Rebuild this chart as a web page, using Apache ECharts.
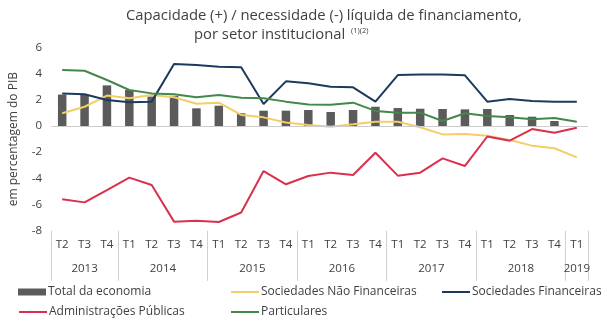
<!DOCTYPE html>
<html>
<head>
<meta charset="utf-8">
<script src="https://cdn.jsdelivr.net/npm/echarts@6/dist/echarts.min.js"></script>
<style>
  html, body { margin: 0; padding: 0; background: #ffffff; }
  #chart { width: 604px; height: 322px; }
</style>
</head>
<body>
<div id="chart"></div>
<script>
// Quarterly net lending (+) / net borrowing (-) by institutional sector, % of GDP
const quarters = ['T2','T3','T4','T1','T2','T3','T4','T1','T2','T3','T4','T1','T2','T3','T4','T1','T2','T3','T4','T1','T2','T3','T4','T1'];
const years = ['2013','2014','2015','2016','2017','2018','2019'];
const quartersPerYear = [3, 4, 4, 4, 4, 4, 1];

const totalEconomia     = [2.4, 2.4, 3.1, 2.75, 2.25, 2.3, 1.35, 1.55, 0.97, 1.17, 1.17, 1.22, 1.07, 1.22, 1.47, 1.37, 1.32, 1.3, 1.27, 1.3, 0.84, 0.71, 0.38, 0.0];
const socNaoFinanceiras = [0.97, 1.47, 2.32, 2.11, 2.37, 2.19, 1.7, 1.78, 0.84, 0.66, 0.26, 0.08, -0.05, 0.13, 0.33, 0.33, -0.1, -0.64, -0.61, -0.74, -1.07, -1.5, -1.7, -2.39];
const socFinanceiras    = [2.49, 2.42, 1.98, 1.81, 1.86, 4.73, 4.65, 4.53, 4.48, 1.68, 3.41, 3.26, 3.0, 2.95, 1.86, 3.89, 3.94, 3.94, 3.87, 1.86, 2.06, 1.91, 1.86, 1.86];
const admPublicas       = [-5.6, -5.83, -4.89, -3.94, -4.5, -7.3, -7.23, -7.33, -6.6, -3.44, -4.45, -3.82, -3.56, -3.74, -2.04, -3.79, -3.56, -2.47, -3.05, -0.8, -1.12, -0.23, -0.51, -0.13];
const particulares      = [4.27, 4.22, 3.51, 2.75, 2.49, 2.42, 2.19, 2.37, 2.16, 2.11, 1.86, 1.65, 1.63, 1.78, 1.15, 1.02, 1.02, 0.38, 0.97, 0.76, 0.66, 0.51, 0.61, 0.33];

const yMin = -8, yMax = 6, yStep = 2;

// year group boundaries and centres on a 0..N continuous scale
const yearBounds = [0];
quartersPerYear.forEach(n => yearBounds.push(yearBounds[yearBounds.length - 1] + n));
const yearCenters = years.map((_, i) => (yearBounds[i] + yearBounds[i + 1]) / 2);

const FONT = '"Open Sans", "Noto Sans", sans-serif';
const TXT = '#404040';

const COLORS = {
  total: '#5b5b5b',
  snf: '#f3cd66',
  sf: '#1c3a5e',
  ap: '#d9304d',
  part: '#43884a'
};

// one legend entry per box so each sits exactly in its column / row
function legendItem(name, left, top, isBar) {
  return {
    left: left, top: top, padding: 0,
    orient: 'horizontal',
    icon: 'rect',
    itemWidth: 28, itemHeight: isBar ? 7 : 2,
    textStyle: { fontFamily: FONT, fontSize: 12, color: TXT, padding: [0, 0, 0, -3] },
    data: [name]
  };
}

const chart = echarts.init(document.getElementById('chart'), null, { renderer: 'canvas' });

chart.setOption({
  animation: false,
  backgroundColor: '#ffffff',
  textStyle: { fontFamily: FONT },
  title: [
    {
      text: 'Capacidade (+) / necessidade (-) líquida de financiamento,',
      left: 121, top: 3,
      textStyle: { fontFamily: FONT, fontSize: 14.8, fontWeight: 'normal', color: TXT }
    },
    {
      text: 'por setor institucional {sup|(1)(2)}',
      left: 189, top: 22,
      textStyle: {
        fontFamily: FONT, fontSize: 14.8, fontWeight: 'normal', color: TXT,
        rich: { sup: { fontFamily: FONT, fontSize: 7.5, color: TXT, verticalAlign: 'top', padding: [0, 0, 7, 2] } }
      }
    }
  ],
  grid: { left: 45, right: 16, top: 47.4, bottom: 91.2, containLabel: false },
  legend: [
    legendItem('Total da economia', 18, 286, true),
    legendItem('Sociedades Não Financeiras', 231, 286, false),
    legendItem('Sociedades Financeiras', 442, 286, false),
    legendItem('Administrações Públicas', 19, 306, false),
    legendItem('Particulares', 231, 306, false)
  ],
  xAxis: [
    {
      type: 'category',
      data: quarters,
      position: 'bottom',
      axisLine: { show: false },
      axisTick: { show: false },
      axisLabel: { interval: 0, margin: 8, fontFamily: FONT, fontSize: 11.5, color: TXT }
    },
    {
      // year row with group separators
      type: 'value',
      min: 0, max: yearBounds[yearBounds.length - 1],
      position: 'bottom',
      splitLine: { show: false },
      axisLine: { show: false },
      axisTick: { show: true, customValues: yearBounds, length: 50, lineStyle: { color: '#d0d0d0', width: 1 } },
      axisLabel: {
        customValues: yearCenters,
        margin: 32, fontFamily: FONT, fontSize: 11.5, color: TXT,
        formatter: v => {
          const i = yearCenters.findIndex(c => Math.abs(c - v) < 1e-6);
          return i >= 0 ? years[i] : '';
        }
      }
    }
  ],
  yAxis: {
    type: 'value',
    min: yMin, max: yMax, interval: yStep,
    name: 'em percentagem do PIB',
    nameLocation: 'middle', nameGap: 31, nameRotate: 90,
    nameTextStyle: { fontFamily: FONT, fontSize: 12, color: TXT },
    axisLine: { show: false },
    axisTick: { show: false },
    splitLine: { show: false },
    axisLabel: { margin: 9, fontFamily: FONT, fontSize: 11.5, color: TXT }
  },
  series: [
    {
      name: 'Total da economia', type: 'bar', data: totalEconomia,
      barWidth: 8.5, itemStyle: { color: COLORS.total },
      markLine: {
        silent: true, symbol: 'none', label: { show: false },
        lineStyle: { color: '#cccccc', width: 1, type: 'solid' },
        data: [{ yAxis: 0 }]
      }
    },
    {
      name: 'Sociedades Não Financeiras', type: 'line', data: socNaoFinanceiras,
      symbol: 'none', lineStyle: { color: COLORS.snf, width: 2 }, itemStyle: { color: COLORS.snf }
    },
    {
      name: 'Sociedades Financeiras', type: 'line', data: socFinanceiras,
      symbol: 'none', lineStyle: { color: COLORS.sf, width: 2 }, itemStyle: { color: COLORS.sf }
    },
    {
      name: 'Administrações Públicas', type: 'line', data: admPublicas,
      symbol: 'none', lineStyle: { color: COLORS.ap, width: 2 }, itemStyle: { color: COLORS.ap }
    },
    {
      name: 'Particulares', type: 'line', data: particulares,
      symbol: 'none', lineStyle: { color: COLORS.part, width: 2 }, itemStyle: { color: COLORS.part }
    }
  ]
});
</script>
</body>
</html>
